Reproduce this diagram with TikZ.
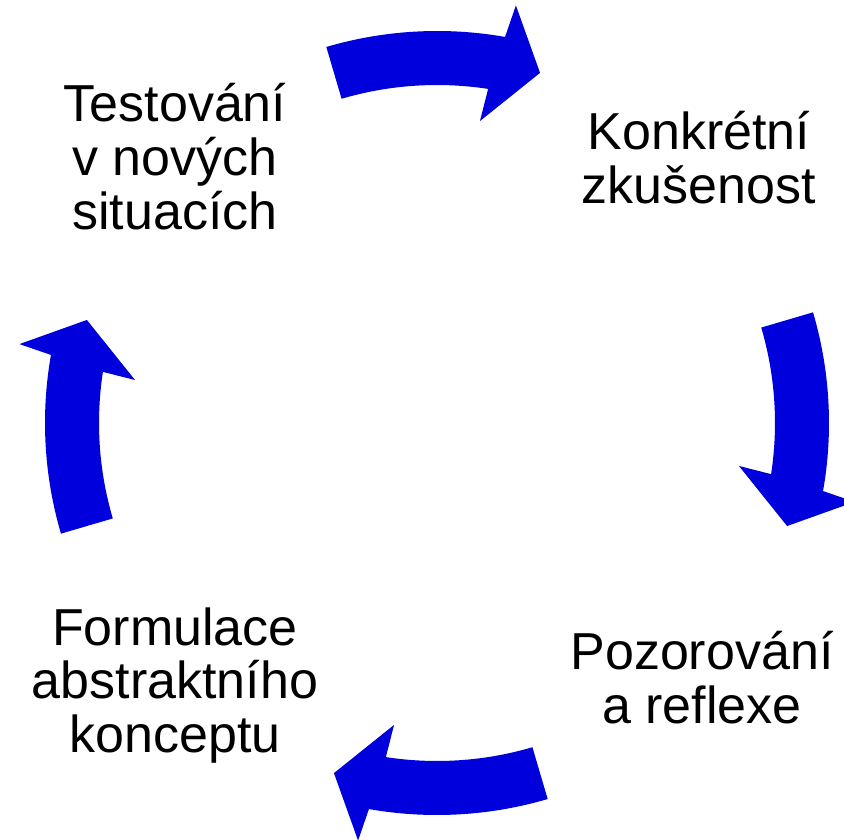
\documentclass[tikz,border=0pt]{standalone}
\usepackage{fontspec}
\setmainfont{Liberation Sans}
\definecolor{cycleblue}{RGB}{0,0,221}

\begin{document}
\begin{tikzpicture}[x=1pt, y=1pt, every node/.style={font=\fontsize{52}{54}\selectfont, align=center, inner sep=0pt, anchor=base}]
\useasboundingbox (0,0) rectangle (844,839);
\node (test) at (175,609) {Testování\\v nových\\situacích};
\node (konk) at (699,635) {Konkrétní\\zkušenost};
\node (pozo) at (702,115) {Pozorování\\a reflexe};
\node (form) at (175,86) {Formulace\\abstraktního\\konceptu};
% the four curved block arrows of the cycle
\foreach \i in {0,1,2,3}
  \fill[cycleblue, shift={(437,416)}, rotate=-90*\i]
    (106.4:392) arc[start angle=106.4, end angle=80, radius=392]
    -- (79.3:425) -- (73.6:365) -- (81.9:305) -- (81.3:338)
    arc[start angle=81.3, end angle=106.4, radius=338] -- cycle;
\end{tikzpicture}
\end{document}
